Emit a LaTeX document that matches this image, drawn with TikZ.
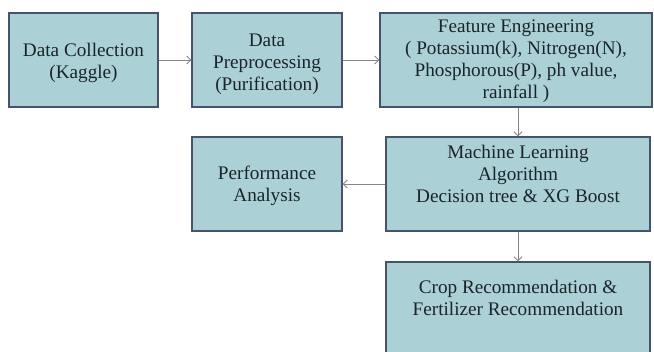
\documentclass[tikz,border=0pt]{standalone}
\usepackage{fontspec}
\setmainfont{Liberation Serif}
\usetikzlibrary{arrows.meta}
\definecolor{boxfill}{HTML}{ABD0D5}
\definecolor{boxline}{HTML}{46536A}
\definecolor{arrowc}{HTML}{858585}
\definecolor{txtc}{HTML}{1A252B}
\tikzset{
  box/.style={draw=boxline, fill=boxfill, line width=1.4pt, rectangle, inner sep=0pt, minimum height=94pt},
  txt/.style={align=center, text=txtc, inner sep=0pt, font=\fontsize{19.2pt}{22pt}\selectfont},
  conn/.style={draw=arrowc, line width=0.9pt, -{Straight Barb[length=4pt,width=8pt]}}
}
\begin{document}
\begin{tikzpicture}[x=1pt,y=1pt]
\useasboundingbox (0,0) rectangle (654,352);
\clip (0,0) rectangle (654,352);
% boxes (y = 352 - pixel y)
\node[box, minimum width=149pt] (dc) at (83.5,292) {};
\node[box, minimum width=150pt] (dp) at (267,292) {};
\node[box, minimum width=272pt] (fe) at (516,292) {};
\node[box, minimum width=150pt] (pa) at (267,168) {};
\node[box, minimum width=264pt] (ml) at (518,168) {};
\node[box, minimum width=264pt] (cr) at (518,43) {};
% texts
\node[txt] (dct) at (83.5,289) {Data Collection\\(Kaggle)};
\node[txt] (dpt) at (267,288) {Data\\Preprocessing\\(Purification)};
\node[txt] (fet) at (516,291) {Feature Engineering\\( Potassium(k), Nitrogen(N),\\Phosphorous(P), ph value,\\rainfall )};
\node[txt] (pat) at (267,166) {Performance\\Analysis};
\node[txt] (mlt) at (518,178) {Machine Learning\\Algorithm\\Decision tree \& XG Boost};
\node[txt] (crt) at (518,54) {Crop Recommendation \&\\Fertilizer Recommendation};
% connectors
\draw[conn] (dc.east) -- (dp.west);
\draw[conn] (dp.east) -- (fe.west);
\draw[conn] (fe.south -| ml.north) -- (ml.north);
\draw[conn] (ml.west) -- (pa.east);
\draw[conn] (ml.south) -- (cr.north);
\end{tikzpicture}
\end{document}
